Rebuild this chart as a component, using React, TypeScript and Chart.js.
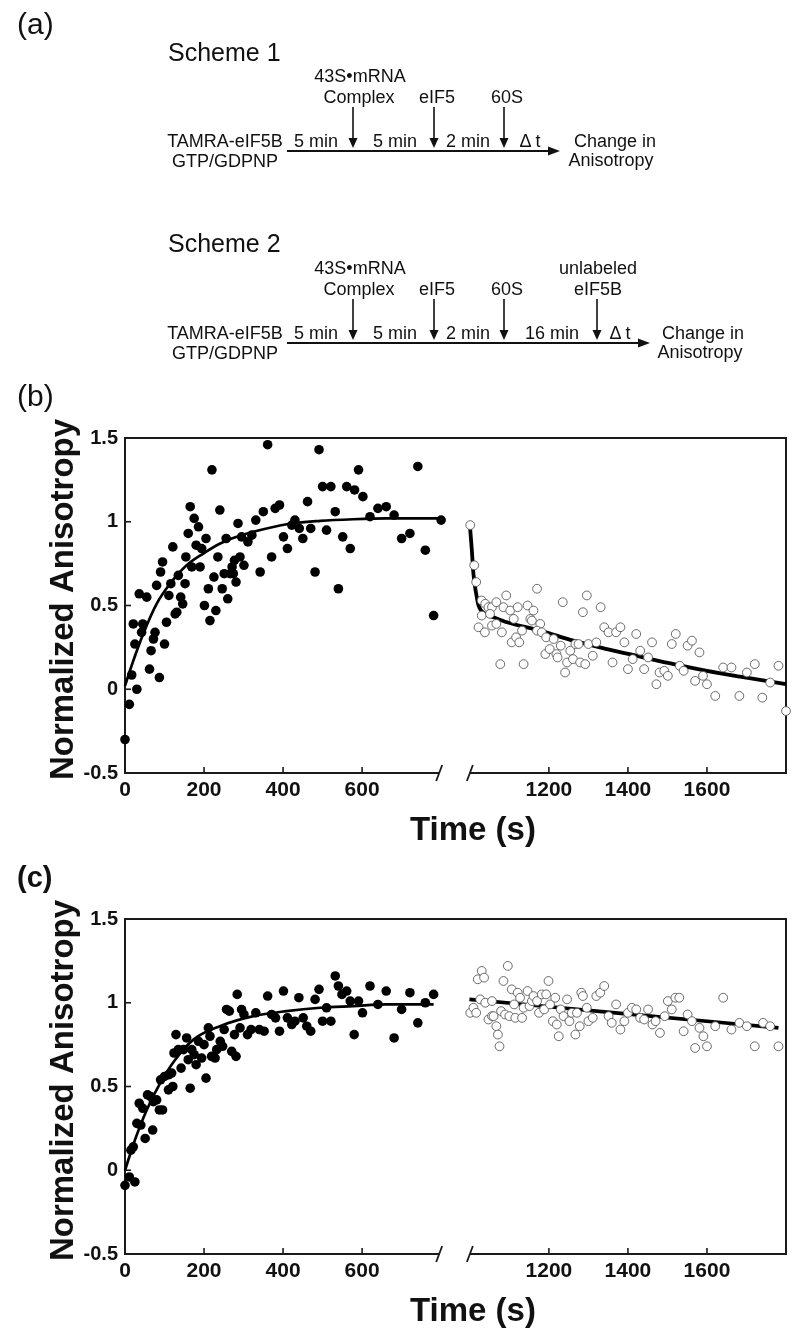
import React, { useEffect, useRef } from "react";
import { Chart, registerables, LinearScale } from "chart.js";

Chart.register(...registerables);

const FONT = "'Liberation Sans', Arial, Helvetica, sans-serif";
Chart.defaults.font.family = FONT;
Chart.defaults.color = "#111";

// ---------------- data (b): bound phase, filled circles ----------------
const B_BOUND_T = [0, 11, 30, 17, 25, 21, 45, 42, 36, 55,
  62, 66, 72, 76, 87, 100, 80, 90, 95, 105,
  111, 116, 121, 127, 131, 135, 141, 146, 152, 154,
  160, 165, 169, 175, 180, 186, 190, 194, 201, 205,
  211, 215, 220, 225, 230, 235, 240, 246, 251, 256,
  260, 266, 271, 274, 277, 281, 286, 291, 295, 301,
  311, 321, 331, 342, 350, 361, 371, 380, 391, 401,
  411, 422, 430, 441, 450, 462, 470, 481, 491, 500,
  510, 521, 532, 540, 551, 561, 570, 581, 591, 602,
  620, 640, 661, 681, 700, 721, 741, 760, 781, 800];
const B_BOUND_V = [-0.30, -0.09, 0.00, 0.085, 0.27, 0.39, 0.39, 0.34, 0.57, 0.55,
  0.12, 0.23, 0.30, 0.34, 0.07, 0.27, 0.62, 0.70, 0.76, 0.40,
  0.56, 0.63, 0.85, 0.45, 0.46, 0.68, 0.55, 0.51, 0.63, 0.79,
  0.93, 1.09, 0.73, 1.02, 0.86, 0.97, 0.73, 0.84, 0.50, 0.90,
  0.60, 0.41, 1.31, 0.67, 0.47, 0.79, 1.07, 0.60, 0.69, 0.90,
  0.54, 0.69, 0.73, 0.69, 0.77, 0.64, 0.99, 0.79, 0.91, 0.74,
  0.88, 0.92, 1.01, 0.70, 1.06, 1.46, 0.79, 1.08, 1.10, 0.91,
  0.84, 0.98, 1.01, 0.96, 0.90, 1.12, 0.96, 0.70, 1.43, 1.21,
  0.95, 1.21, 1.06, 0.60, 0.91, 1.21, 0.84, 1.19, 1.31, 1.15,
  1.03, 1.08, 1.09, 1.04, 0.90, 0.93, 1.33, 0.83, 0.44, 1.01];

// (b): chase phase, open circles
const B_CHASE_T = [1001, 1011, 1016, 1030, 1039, 1047, 1056, 1067, 1030, 1051,
  1022, 1038, 1056, 1067, 1081, 1077, 1092, 1085, 1102, 1111,
  1121, 1106, 1117, 1125, 1132, 1136, 1146, 1153, 1161, 1157,
  1170, 1178, 1170, 1182, 1193, 1191, 1202, 1212, 1219, 1222,
  1230, 1235, 1241, 1246, 1254, 1261, 1267, 1275, 1279, 1286,
  1292, 1296, 1300, 1311, 1320, 1331, 1340, 1351, 1361, 1370,
  1381, 1391, 1400, 1412, 1421, 1431, 1441, 1451, 1461, 1472,
  1480, 1492, 1501, 1511, 1521, 1531, 1541, 1551, 1562, 1570,
  1581, 1590, 1600, 1621, 1641, 1662, 1682, 1701, 1721, 1740,
  1760, 1781, 1800];
const B_CHASE_V = [0.98, 0.74, 0.64, 0.53, 0.51, 0.49, 0.49, 0.52, 0.44, 0.45,
  0.37, 0.34, 0.38, 0.39, 0.34, 0.15, 0.56, 0.49, 0.47, 0.42,
  0.49, 0.28, 0.31, 0.28, 0.35, 0.15, 0.50, 0.42, 0.47, 0.41,
  0.60, 0.39, 0.35, 0.34, 0.31, 0.21, 0.24, 0.30, 0.21, 0.19,
  0.26, 0.52, 0.10, 0.16, 0.23, 0.18, 0.27, 0.27, 0.16, 0.46,
  0.15, 0.56, 0.27, 0.20, 0.28, 0.49, 0.37, 0.34, 0.16, 0.34,
  0.37, 0.28, 0.12, 0.18, 0.33, 0.23, 0.12, 0.19, 0.28, 0.03,
  0.10, 0.11, 0.08, 0.27, 0.33, 0.14, 0.11, 0.26, 0.29, 0.05,
  0.22, 0.08, 0.03, -0.04, 0.13, 0.13, -0.04, 0.10, 0.15, -0.05,
  0.04, 0.14, -0.13];

// (b): fitted curves
const B_FIT1_T = [0, 21, 46, 80, 114, 156, 198, 241, 283, 325, 409, 494, 578, 662, 800];
const B_FIT1_V = [0.02, 0.17, 0.33, 0.51, 0.63, 0.74, 0.81, 0.87, 0.91, 0.94, 0.985, 1.005, 1.015, 1.02, 1.02];
const B_FIT2_T = [999, 1005, 1009, 1016, 1022, 1039, 1060, 1094, 1178, 1262, 1347, 1431, 1516, 1600, 1684, 1800];
const B_FIT2_V = [0.99, 0.83, 0.69, 0.57, 0.50, 0.45, 0.43, 0.40, 0.35, 0.29, 0.24, 0.195, 0.15, 0.11, 0.075, 0.03];

// ---------------- data (c) ----------------
const C_BOUND_T = [0, 11, 25, 15, 21, 30, 40, 51, 70, 36,
  45, 57, 65, 72, 80, 87, 95, 90, 100, 110,
  118, 110, 121, 129, 124, 135, 142, 148, 156, 160,
  165, 169, 175, 180, 186, 194, 200, 205, 211, 215,
  219, 228, 232, 241, 247, 251, 257, 264, 270, 277,
  281, 284, 291, 295, 301, 310, 319, 331, 340, 352,
  361, 371, 381, 391, 401, 411, 422, 430, 440, 451,
  460, 470, 481, 491, 500, 510, 521, 532, 540, 549,
  561, 570, 580, 591, 601, 620, 640, 661, 681, 700,
  721, 741, 760, 781];
const C_BOUND_V = [-0.09, -0.04, -0.07, 0.12, 0.14, 0.28, 0.27, 0.19, 0.24, 0.40,
  0.37, 0.45, 0.44, 0.41, 0.42, 0.36, 0.36, 0.54, 0.56, 0.57,
  0.58, 0.48, 0.50, 0.81, 0.70, 0.72, 0.61, 0.72, 0.79, 0.66,
  0.49, 0.72, 0.69, 0.63, 0.77, 0.67, 0.75, 0.55, 0.85, 0.80,
  0.68, 0.67, 0.72, 0.77, 0.74, 0.84, 0.96, 0.95, 0.71, 0.81,
  0.68, 1.05, 0.85, 0.96, 0.93, 0.81, 0.84, 0.94, 0.84, 0.83,
  1.04, 0.93, 0.91, 0.83, 1.07, 0.91, 0.87, 0.89, 1.03, 0.91,
  0.86, 0.83, 1.02, 1.08, 0.89, 0.97, 0.89, 1.16, 1.10, 1.05,
  1.07, 1.01, 0.81, 1.01, 0.94, 1.10, 0.99, 1.07, 0.79, 0.96,
  1.06, 0.88, 1.00, 1.05];

const C_CHASE_T = [1001, 1009, 1016, 1020, 1030, 1036, 1026, 1039, 1047, 1056,
  1056, 1060, 1067, 1071, 1075, 1079, 1085, 1089, 1096, 1100,
  1106, 1112, 1115, 1121, 1127, 1132, 1136, 1146, 1151, 1157,
  1161, 1170, 1175, 1182, 1188, 1193, 1199, 1203, 1210, 1216,
  1220, 1225, 1230, 1237, 1246, 1252, 1258, 1267, 1271, 1278,
  1282, 1286, 1296, 1300, 1311, 1320, 1330, 1340, 1351, 1359,
  1370, 1381, 1391, 1400, 1410, 1421, 1431, 1441, 1451, 1462,
  1470, 1481, 1493, 1501, 1511, 1520, 1530, 1541, 1551, 1562,
  1570, 1581, 1591, 1600, 1621, 1641, 1662, 1682, 1701, 1721,
  1742, 1760, 1781];
const C_CHASE_V = [0.94, 0.97, 0.94, 1.14, 1.19, 1.15, 1.02, 1.00, 0.90, 0.92,
  1.01, 0.92, 0.86, 0.81, 0.74, 0.95, 1.13, 0.93, 1.22, 0.92,
  1.08, 0.99, 0.91, 1.06, 1.03, 0.91, 0.97, 1.07, 0.98, 1.01,
  1.04, 1.01, 0.94, 1.05, 0.96, 1.05, 1.13, 0.99, 0.89, 1.03,
  0.87, 0.80, 0.96, 0.92, 1.02, 0.89, 0.94, 0.81, 0.94, 0.86,
  1.06, 1.04, 0.97, 0.89, 0.91, 1.04, 1.06, 1.10, 0.92, 0.88,
  0.99, 0.84, 0.89, 0.94, 0.97, 0.96, 0.91, 0.90, 0.96, 0.87,
  0.89, 0.82, 0.92, 1.01, 0.96, 1.03, 1.03, 0.83, 0.93, 0.89,
  0.73, 0.85, 0.80, 0.74, 0.86, 1.03, 0.84, 0.88, 0.86, 0.74,
  0.88, 0.86, 0.74];

const C_FIT1_T = [0, 25, 55, 89, 127, 173, 240, 325, 409, 494, 578, 662, 781];
const C_FIT1_V = [0.0, 0.18, 0.36, 0.52, 0.66, 0.78, 0.86, 0.92, 0.95, 0.97, 0.98, 0.99, 0.99];
const C_FIT2_T = [997, 1389, 1781];
const C_FIT2_V = [1.02, 0.935, 0.85];

// ---------------- axes ----------------
const X_TICKS = [0, 200, 400, 600, 1200, 1400, 1600];
const Y_TICKS = [-0.5, 0, 0.5, 1, 1.5];
const Y_MIN = -0.5;
const Y_MAX = 1.5;
const X_MIN = 0;
const X_END = 1800;
const X_SEG1_END = 800;     // first axis segment ends here
const X_SEG2_START = 1000;  // second axis segment starts here
const X_GAP = 72.7;         // width of the break, in time units
const BREAK_MARKS = [795, 1000];

// compress the unused 800-1000 s interval into a short gap
function toDisp(v: number) {
  if (v <= X_SEG1_END) return v;
  if (v >= X_SEG2_START) return v - X_SEG2_START + X_SEG1_END + X_GAP;
  return X_SEG1_END + ((v - X_SEG1_END) / (X_SEG2_START - X_SEG1_END)) * X_GAP;
}
function fromDisp(d: number) {
  if (d <= X_SEG1_END) return d;
  if (d >= X_SEG1_END + X_GAP) return d - X_SEG1_END - X_GAP + X_SEG2_START;
  return X_SEG1_END + ((d - X_SEG1_END) / X_GAP) * (X_SEG2_START - X_SEG1_END);
}

class BrokenLinearScale extends LinearScale {
  static id = "brokenLinear";
  static defaults = LinearScale.defaults;
  getPixelForValue(value: any) {
    if (value === null || value === undefined) return NaN;
    const a = toDisp(this.min);
    const b = toDisp(this.max);
    return this.getPixelForDecimal((toDisp(value) - a) / (b - a));
  }
  getValueForPixel(pixel: number) {
    const a = toDisp(this.min);
    const b = toDisp(this.max);
    return fromDisp(a + this.getDecimalForPixel(pixel) * (b - a));
  }
}
Chart.register(BrokenLinearScale as any);

const pts = (T: number[], V: number[]) => T.map((t, i) => ({ x: t, y: V[i] }));

const filledSet = (T: number[], V: number[]) => ({
  data: pts(T, V),
  showLine: false,
  pointRadius: 4.8,
  pointBackgroundColor: "#000",
  pointBorderColor: "#000",
  pointBorderWidth: 0,
  order: 1,
  clip: false,
});
const openSet = (T: number[], V: number[]) => ({
  data: pts(T, V),
  showLine: false,
  pointRadius: 4.4,
  pointBackgroundColor: "#fff",
  pointBorderColor: "#5a5a5a",
  pointBorderWidth: 0.9,
  order: 1,
  clip: false,
});
const fitSet = (T: number[], V: number[], w: number) => ({
  data: pts(T, V),
  showLine: true,
  pointRadius: 0,
  borderColor: "#000",
  borderWidth: w,
  cubicInterpolationMode: "monotone",
  fill: false,
  order: 2,
  clip: false,
});

const framePlugin = {
  id: "frame",
  beforeDatasetsDraw(chart: any) {
    const { ctx, chartArea, scales } = chart;
    const { left, right, top, bottom } = chartArea;
    const xs = scales.x;
    const ys = scales.y;
    ctx.save();
    ctx.strokeStyle = "#1a1a1a";
    ctx.lineWidth = 2;
    const seg = (x1: number, y1: number, x2: number, y2: number) => {
      ctx.beginPath();
      ctx.moveTo(x1, y1);
      ctx.lineTo(x2, y2);
      ctx.stroke();
    };
    seg(left - 1, top, right + 1, top);
    seg(right, top, right, bottom + 1);
    seg(left, top, left, bottom + 1);
    const xa = xs.getPixelForValue(BREAK_MARKS[0]);
    const xb = xs.getPixelForValue(BREAK_MARKS[1]);
    seg(left - 1, bottom, xa, bottom);
    seg(xb, bottom, right + 1, bottom);
    ctx.lineWidth = 1.8;
    for (const px of [xa, xb]) seg(px - 3, bottom + 8, px + 3, bottom - 8);
    ctx.lineWidth = 1.6;
    for (const t of X_TICKS) {
      if (t === X_TICKS[0]) continue;
      const px = xs.getPixelForValue(t);
      seg(px, bottom, px, bottom - 6);
    }
    for (const v of Y_TICKS) {
      if (v === Y_MIN || v === Y_MAX) continue;
      const py = ys.getPixelForValue(v);
      seg(left, py, left + 6, py);
    }
    ctx.restore();
  },
  afterDraw(chart: any) {
    const { ctx, chartArea } = chart;
    const { left, top, bottom } = chartArea;
    ctx.save();
    ctx.fillStyle = "#111";
    ctx.font = `bold 33px ${FONT}`;
    ctx.textAlign = "left";
    ctx.textBaseline = "alphabetic";
    ctx.fillText("Time (s)", left + 285, bottom + 67);
    ctx.translate(left - 52, (top + bottom) / 2 - 6);
    ctx.rotate(-Math.PI / 2);
    ctx.textAlign = "center";
    ctx.fillText("Normalized Anisotropy", 0, 0);
    ctx.restore();
  },
};

function buildConfig(datasets: any[]) {
  return {
    type: "scatter",
    data: { datasets },
    options: {
      responsive: false,
      animation: false,
      devicePixelRatio: 1,
      events: [],
      layout: { padding: { left: 0, right: 14, top: 58, bottom: 47 } },
      plugins: { legend: { display: false }, tooltip: { enabled: false } },
      scales: {
        x: {
          type: "brokenLinear",
          min: X_MIN,
          max: X_END,
          grid: { display: false, drawTicks: false },
          border: { display: false },
          afterBuildTicks: (scale: any) => {
            scale.ticks = X_TICKS.map((v) => ({ value: v }));
          },
          afterFit: (scale: any) => {
            scale.height = 40;
          },
          ticks: {
            autoSkip: false,
            maxRotation: 0,
            padding: 5,
            color: "#111",
            font: { size: 21, weight: "bold", family: FONT },
            callback: (v: any) => String(v),
          },
        },
        y: {
          type: "linear",
          min: Y_MIN,
          max: Y_MAX,
          grid: { display: false, drawTicks: false },
          border: { display: false },
          afterBuildTicks: (scale: any) => {
            scale.ticks = Y_TICKS.map((v) => ({ value: v }));
          },
          afterFit: (scale: any) => {
            scale.width = 125;
          },
          ticks: {
            padding: 7,
            color: "#111",
            font: { size: 20, weight: "bold", family: FONT },
            callback: (v: any) => String(v),
          },
        },
      },
    },
    plugins: [framePlugin],
  };
}

function PanelChart({ top, datasets }: { top: number; datasets: any[] }) {
  const ref = useRef<HTMLCanvasElement>(null);
  useEffect(() => {
    if (!ref.current) return;
    const chart = new Chart(ref.current, buildConfig(datasets) as any);
    return () => chart.destroy();
  }, []);
  return (
    <canvas
      ref={ref}
      width={800}
      height={480}
      style={{ position: "absolute", left: 0, top, width: 800, height: 480 }}
    />
  );
}

function DownArrow({ x, y1, tip }: { x: number; y1: number; tip: number }) {
  return (
    <g>
      <line x1={x} y1={y1} x2={x} y2={tip - 8} stroke="#111" strokeWidth={1.6} />
      <polygon points={`${x - 4.5},${tip - 10} ${x + 4.5},${tip - 10} ${x},${tip}`} fill="#111" />
    </g>
  );
}

function RightArrow({ x1, tip, y }: { x1: number; tip: number; y: number }) {
  return (
    <g>
      <line x1={x1} y1={y} x2={tip - 10} y2={y} stroke="#111" strokeWidth={2} />
      <polygon points={`${tip - 12},${y - 4.5} ${tip - 12},${y + 4.5} ${tip},${y}`} fill="#111" />
    </g>
  );
}

function Scheme({ dy, title, extra }: { dy: number; title: string; extra: boolean }) {
  const t = (x: number, y: number, s: string, anchor = "middle") => (
    <text x={x} y={y + dy} textAnchor={anchor} fontSize={18}>
      {s}
    </text>
  );
  return (
    <g>
      <text x={168} y={61 + dy + (extra ? -1 : 0)} fontSize={25}>
        {title}
      </text>
      {t(360, 82, "43S•mRNA")}
      {t(359, 103, "Complex")}
      {t(437, 103, "eIF5")}
      {t(507, 103, "60S")}
      {t(225, 147, "TAMRA-eIF5B")}
      {t(225, 167, "GTP/GDPNP")}
      {t(316, 147, "5 min")}
      {t(395, 147, "5 min")}
      {t(468, 147, "2 min")}
      <DownArrow x={353} y1={107 + dy} tip={148 + dy} />
      <DownArrow x={434} y1={107 + dy} tip={148 + dy} />
      <DownArrow x={504} y1={107 + dy} tip={148 + dy} />
      {extra ? (
        <g>
          {t(598, 82, "unlabeled")}
          {t(598, 103, "eIF5B")}
          {t(552, 147, "16 min")}
          {t(620, 147, "Δ t")}
          <DownArrow x={597} y1={107 + dy} tip={148 + dy} />
          <RightArrow x1={287} tip={650} y={151 + dy} />
          {t(703, 147, "Change in")}
          {t(700, 166, "Anisotropy")}
        </g>
      ) : (
        <g>
          {t(530, 147, "Δ t")}
          <RightArrow x1={287} tip={560} y={151 + dy} />
          {t(615, 147, "Change in")}
          {t(611, 166, "Anisotropy")}
        </g>
      )}
    </g>
  );
}

export default function App() {
  const bSets = [
    fitSet(B_FIT1_T, B_FIT1_V, 2.7),
    fitSet(B_FIT2_T, B_FIT2_V, 3.8),
    filledSet(B_BOUND_T, B_BOUND_V),
    openSet(B_CHASE_T, B_CHASE_V),
  ];
  const cSets = [
    fitSet(C_FIT1_T, C_FIT1_V, 2.7),
    fitSet(C_FIT2_T, C_FIT2_V, 3.6),
    filledSet(C_BOUND_T, C_BOUND_V),
    openSet(C_CHASE_T, C_CHASE_V),
  ];
  return (
    <div
      style={{
        position: "absolute",
        left: 0,
        top: 0,
        width: 800,
        height: 1340,
        background: "#fff",
        overflow: "hidden",
      }}
    >
      <PanelChart top={380} datasets={bSets} />
      <PanelChart top={861} datasets={cSets} />
      <svg
        width={800}
        height={1340}
        style={{ position: "absolute", left: 0, top: 0, pointerEvents: "none" }}
        fontFamily={FONT}
        fill="#111"
      >
        <text x={17} y={34} fontSize={30}>(a)</text>
        <Scheme dy={0} title="Scheme 1" extra={false} />
        <Scheme dy={192} title="Scheme 2" extra={true} />
        <text x={17} y={406} fontSize={30}>(b)</text>
        <text x={17} y={887} fontSize={29} fontWeight="bold">(c)</text>
      </svg>
    </div>
  );
}
